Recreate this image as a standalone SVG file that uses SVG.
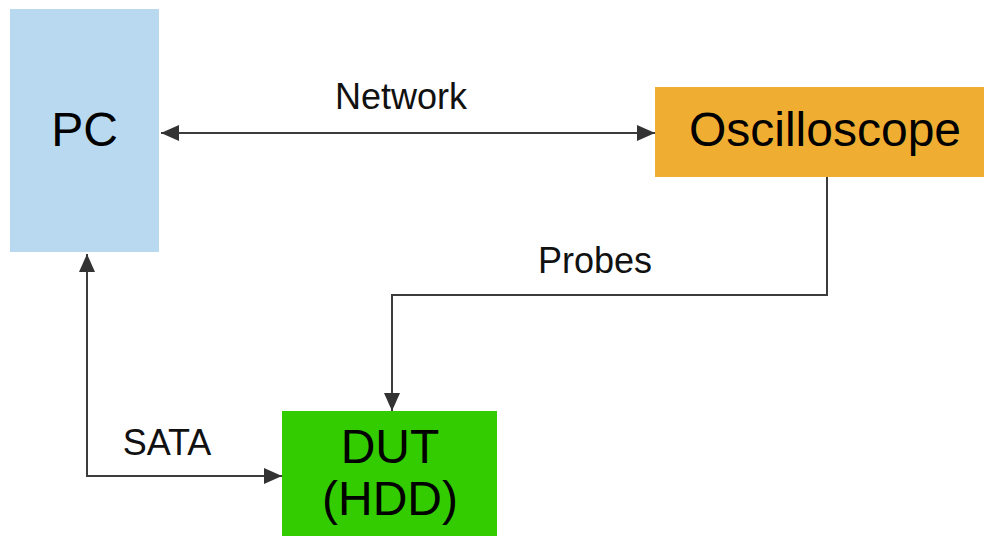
<svg xmlns="http://www.w3.org/2000/svg" width="984" height="536" viewBox="0 0 984 536">
  <style>
    .box-label { font-family: "Liberation Sans", Arial, sans-serif; font-size: 48px; fill: #000; text-anchor: middle; }
    .edge-label { font-family: "Liberation Sans", Arial, sans-serif; font-size: 36px; fill: #111; text-anchor: middle; }
    .wire { fill: none; stroke: #3c3c3c; stroke-width: 2; }
  </style>
  <defs>
    <marker id="head" markerUnits="userSpaceOnUse" markerWidth="18" markerHeight="16" refX="18" refY="8" orient="auto-start-reverse">
      <path d="M0,0 L18,8 L0,16 Z" fill="#333"/>
    </marker>
  </defs>
  <rect width="984" height="536" fill="#fff"/>

  <g id="pc">
    <rect x="10" y="9" width="149" height="243" fill="#b8d9ef"/>
    <text class="box-label" x="84.5" y="146">PC</text>
  </g>

  <g id="oscilloscope">
    <rect x="655" y="87" width="340" height="90" fill="#efae32"/>
    <text class="box-label" x="825" y="146">Oscilloscope</text>
  </g>

  <g id="dut">
    <rect x="282" y="411" width="215" height="130" fill="#33cc00"/>
    <text class="box-label" x="390" y="463">DUT</text>
    <text class="box-label" x="390" y="515">(HDD)</text>
  </g>

  <g id="connectors">
    <path class="wire" d="M161,133 H655" marker-start="url(#head)" marker-end="url(#head)"/>
    <text class="edge-label" x="401" y="109">Network</text>
    <path class="wire" d="M827,177 V295 H392 V411" marker-end="url(#head)"/>
    <text class="edge-label" x="595" y="273">Probes</text>
    <path class="wire" d="M87,254 V476 H282" marker-start="url(#head)" marker-end="url(#head)"/>
    <text class="edge-label" x="167" y="455">SATA</text>
  </g>
</svg>
